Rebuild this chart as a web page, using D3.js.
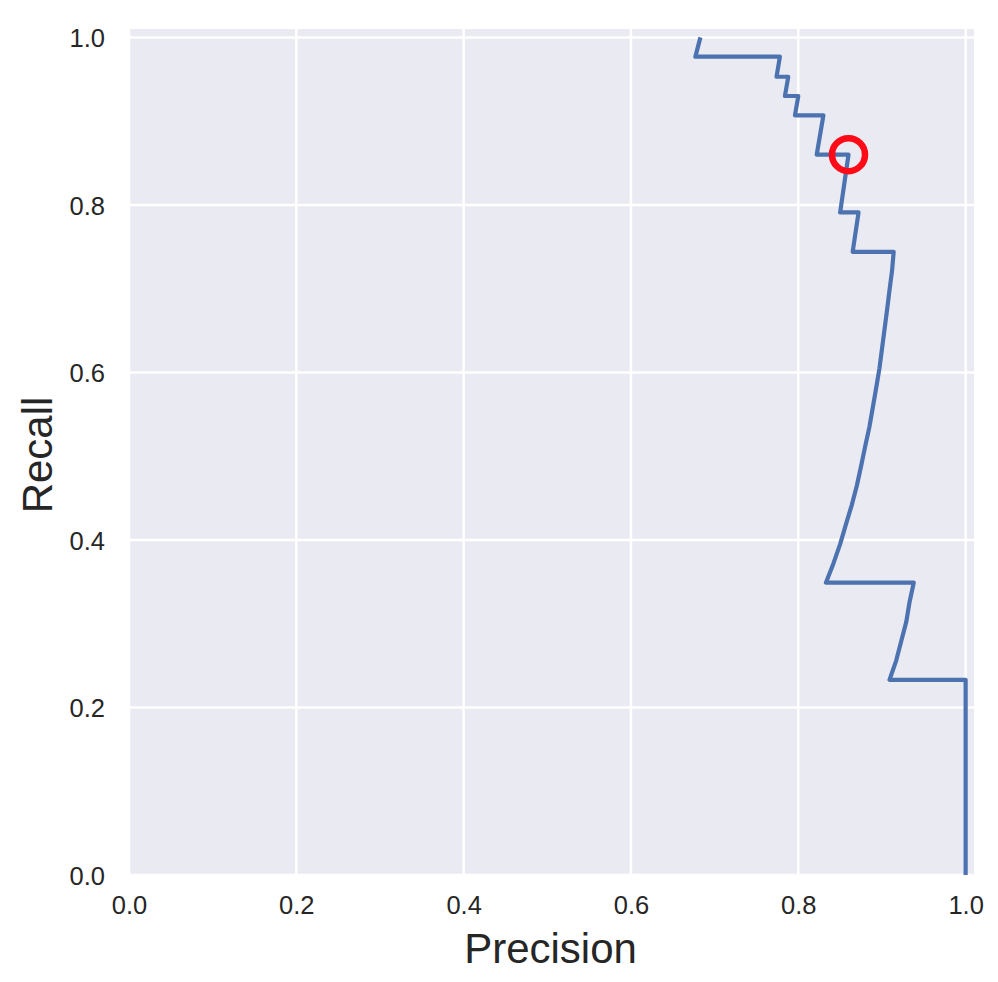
<!DOCTYPE html>
<html>
<head>
<meta charset="utf-8">
<script src="https://cdn.jsdelivr.net/npm/d3@7"></script>
<style>
  html, body { margin: 0; padding: 0; background: #ffffff; }
  svg { display: block; }
</style>
</head>
<body>
<svg id="chart" width="998" height="982"></svg>
<script>
// ---- data ----
const precision = [0.683, 0.677, 0.778, 0.774, 0.788, 0.784, 0.800, 0.796, 0.830, 0.822,
  0.860, 0.850, 0.872, 0.865, 0.914, 0.912, 0.909, 0.906, 0.903, 0.900,
  0.897, 0.893, 0.889, 0.885, 0.880, 0.875, 0.870, 0.864, 0.857, 0.850,
  0.842, 0.833, 0.938, 0.933, 0.929, 0.923, 0.917, 0.909, 1.000, 1.000];
const recall = [1.000, 0.977, 0.977, 0.953, 0.953, 0.930, 0.930, 0.907, 0.907, 0.860,
  0.860, 0.791, 0.791, 0.744, 0.744, 0.721, 0.698, 0.674, 0.651, 0.628,
  0.605, 0.581, 0.558, 0.535, 0.512, 0.488, 0.465, 0.442, 0.419, 0.395,
  0.372, 0.349, 0.349, 0.326, 0.302, 0.279, 0.256, 0.233, 0.233, 0.000];
const markerPoint = [0.860, 0.860];   // highlighted (precision, recall)
const tickValues = [0.0, 0.2, 0.4, 0.6, 0.8, 1.0];
const xTitle = "Precision";
const yTitle = "Recall";

// ---- layout ----
const svg = d3.select("#chart");
const L = 129, R = 974, T = 29, B = 875;
const x = d3.scaleLinear().domain([0, 1.01]).range([L, R]);
const y = d3.scaleLinear().domain([0, 1.01]).range([B, T]);
const font = "'Liberation Sans', Arial, Helvetica, sans-serif";
const tickFont = 25.5, labelFont = 42;
const textColor = "#262626";

// background
svg.append("rect").attr("x", L).attr("y", T).attr("width", R - L).attr("height", B - T)
  .attr("fill", "#eaeaf2");

// grid
const grid = svg.append("g");
grid.selectAll("line.v").data(tickValues).enter().append("line")
  .attr("x1", d => x(d)).attr("x2", d => x(d)).attr("y1", T).attr("y2", B)
  .attr("stroke", "#ffffff").attr("stroke-width", 2.5);
grid.selectAll("line.h").data(tickValues).enter().append("line")
  .attr("y1", d => y(d)).attr("y2", d => y(d)).attr("x1", L).attr("x2", R)
  .attr("stroke", "#ffffff").attr("stroke-width", 2.5);

// axes (labels only, seaborn darkgrid has no spines/ticks)
const xAxis = d3.axisBottom(x).tickValues(tickValues).tickFormat(d3.format(".1f")).tickSize(0).tickPadding(0);
const gx = svg.append("g").attr("transform", `translate(0,${B})`).call(xAxis);
gx.select(".domain").remove();
gx.selectAll("text").attr("font-family", font).attr("font-size", tickFont)
  .attr("fill", textColor).attr("dy", null).attr("y", 38.5);

const yAxis = d3.axisLeft(y).tickValues(tickValues).tickFormat(d3.format(".1f")).tickSize(0).tickPadding(0);
const gy = svg.append("g").attr("transform", `translate(${L},0)`).call(yAxis);
gy.select(".domain").remove();
gy.selectAll("text").attr("font-family", font).attr("font-size", tickFont)
  .attr("fill", textColor).attr("x", -24).attr("dy", "0.358em");

// curve
const pts = precision.map((p, i) => [p, recall[i]]);
const line = d3.line().x(d => x(d[0])).y(d => y(d[1]));
svg.append("path").datum(pts).attr("d", line)
  .attr("fill", "none").attr("stroke", "#4c72b0").attr("stroke-width", 4.2)
  .attr("stroke-linejoin", "round").attr("stroke-linecap", "butt");

// marker
svg.append("circle").attr("cx", x(markerPoint[0])).attr("cy", y(markerPoint[1]))
  .attr("r", 16.5).attr("fill", "none").attr("stroke", "#ff0a16").attr("stroke-width", 6.5);

// axis titles
svg.append("text").attr("x", (L + R) / 2 - 1).attr("y", 963)
  .attr("text-anchor", "middle").attr("font-family", font).attr("font-size", labelFont)
  .attr("fill", textColor).text(xTitle);
svg.append("text").attr("transform", `translate(51.5,455) rotate(-90)`)
  .attr("text-anchor", "middle").attr("font-family", font).attr("font-size", labelFont)
  .attr("fill", textColor).text(yTitle);
</script>
</body>
</html>
